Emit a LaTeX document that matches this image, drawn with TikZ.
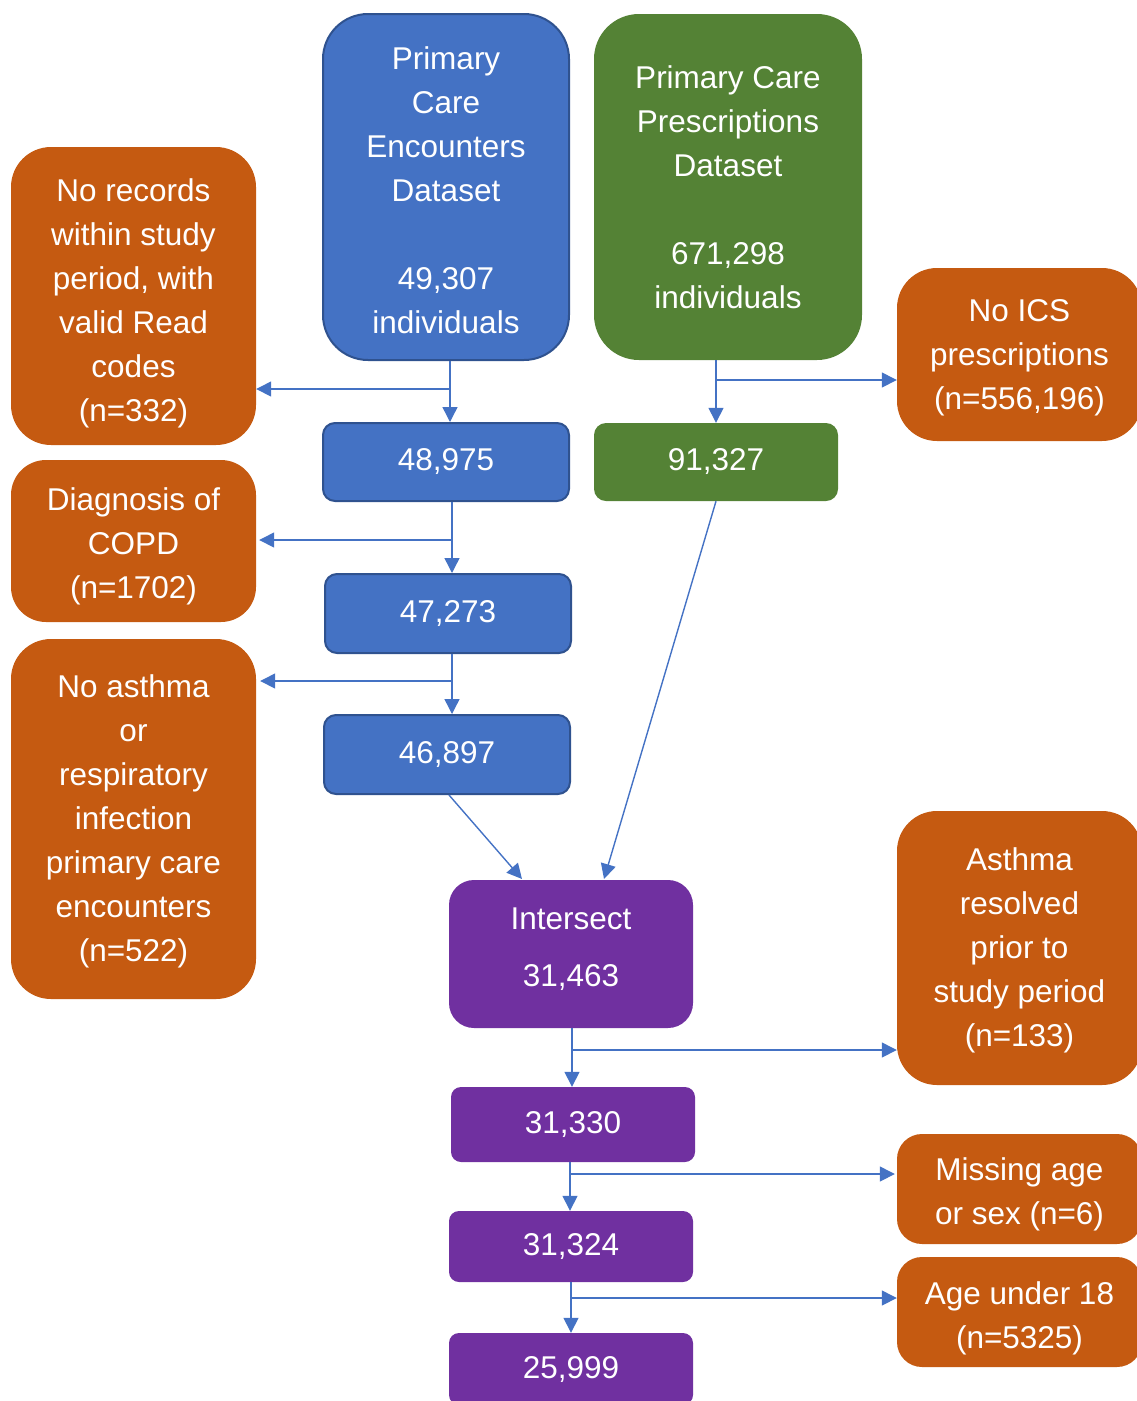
\documentclass[tikz,border=0pt]{standalone}
\usepackage{fontspec}
\setmainfont{Liberation Sans}
\usetikzlibrary{arrows.meta}
\definecolor{encblue}{HTML}{4472C4}
\definecolor{encedge}{HTML}{2F528F}
\definecolor{rxgreen}{HTML}{548235}
\definecolor{exorange}{HTML}{C55A11}
\definecolor{cohort}{HTML}{7030A0}
\newcommand\flowfont{\fontsize{31.5}{44}\selectfont}
% invisible struts to fine-tune the vertical placement of box texts
\newcommand\padtop[1]{\rule{0pt}{#1}}
\newcommand\padbot[1]{\rule[-#1]{0pt}{0pt}}
\begin{document}
\begin{tikzpicture}[x=1pt,y=-1pt,
  box/.style={rectangle, inner sep=0pt, text=white, align=center, font=\flowfont},
  bluebox/.style={box, fill=encblue, draw=encedge, line width=2pt},
  greenbox/.style={box, fill=rxgreen},
  orangebox/.style={box, fill=exorange},
  purplebox/.style={box, fill=cohort},
  arr/.style={draw=encblue, line width=1.4pt, -{Triangle[length=15pt,width=15pt]}}
]
\useasboundingbox (0,0) rectangle (1136,1401);

% source datasets
\node[bluebox, minimum width=246pt, minimum height=346pt, rounded corners=45pt] (A) at (446,187)
  {\padtop{29pt}Primary\\Care\\Encounters\\Dataset\\[44pt]49,307\\individuals};
\node[greenbox, minimum width=268pt, minimum height=346pt, rounded corners=45pt] (B) at (728,187)
  {Primary Care\\Prescriptions\\Dataset\\[44pt]671,298\\individuals};

% encounters branch
\node[bluebox, minimum width=246pt, minimum height=78pt, rounded corners=12pt] (b1) at (446,462) {48,975};
\node[bluebox, minimum width=246pt, minimum height=79pt, rounded corners=12pt] (b2) at (448,613.5) {47,273};
\node[bluebox, minimum width=246pt, minimum height=79pt, rounded corners=12pt] (b3) at (447,754.5) {46,897};

% prescriptions branch
\node[greenbox, minimum width=244pt, minimum height=78pt, rounded corners=12pt] (g1) at (716,462) {91,327};

% exclusions (left)
\node[orangebox, minimum width=245pt, minimum height=298pt, rounded corners=40pt] (O1) at (133.5,296)
  {\padtop{37pt}No records\\within study\\period, with\\valid Read\\codes\\(n=332)};
\node[orangebox, minimum width=245pt, minimum height=162pt, rounded corners=35pt] (O2) at (133.5,541)
  {\padtop{33pt}Diagnosis of\\COPD\\(n=1702)};
\node[orangebox, minimum width=245pt, minimum height=360pt, rounded corners=40pt] (O3) at (133.5,819)
  {\padtop{27pt}No asthma\\or\\respiratory\\infection\\primary care\\encounters\\(n=522)};

% exclusions (right)
\node[orangebox, minimum width=245pt, minimum height=173pt, rounded corners=40pt] (O4) at (1019.5,354.5)
  {\padtop{29pt}No ICS\\prescriptions\\(n=556,196)};
\node[orangebox, minimum width=245pt, minimum height=274pt, rounded corners=40pt] (O5) at (1019.5,948)
  {\padtop{27pt}Asthma\\resolved\\prior to\\study period\\(n=133)};
\node[orangebox, minimum width=245pt, minimum height=110pt, rounded corners=25pt] (O6) at (1019.5,1189)
  {\padtop{34pt}Missing age\\or sex (n=6)};
\node[orangebox, minimum width=245pt, minimum height=110pt, rounded corners=25pt] (O7) at (1019.5,1312)
  {\padtop{35pt}Age under 18\\(n=5325)};

% combined cohort
\node[purplebox, minimum width=244pt, minimum height=148pt, rounded corners=25pt] (I) at (571,954)
  {Intersect\\[13pt]31,463\padbot{13pt}};
\node[purplebox, minimum width=244pt, minimum height=75pt, rounded corners=10pt] (P2) at (573,1124.5) {31,330};
\node[purplebox, minimum width=244pt, minimum height=71pt, rounded corners=10pt] (P3) at (571,1246.5) {31,324};
\node[purplebox, minimum width=244pt, minimum height=72pt, rounded corners=10pt] (P4) at (571,1369) {25,999};

% junction points
\coordinate (j1) at (450,389);
\coordinate (j2) at (452,540);
\coordinate (j3) at (452,681);
\coordinate (k1) at (716,380);
\coordinate (m1) at (572,1050);
\coordinate (m2) at (570,1174);
\coordinate (m3) at (571,1298);
\coordinate (in1) at (522,879);
\coordinate (in2) at (604,879);

% encounters flow
\draw[arr] (j1 |- A.south) -- (j1 |- b1.north);
\draw[arr] (j1) -- (O1.east |- j1);
\draw[arr] (j2 |- b1.south) -- (j2 |- b2.north);
\draw[arr] (j2) -- ([xshift=3pt]O2.east |- j2);
\draw[arr] (j3 |- b2.south) -- (j3 |- b3.north);
\draw[arr] (j3) -- ([xshift=4pt]O3.east |- j3);
\draw[arr] ([xshift=2pt]b3.south) -- (in1);

% prescriptions flow
\draw[arr] (k1 |- B.south) -- (k1 |- g1.north);
\draw[arr] (k1) -- (O4.west |- k1);
\draw[arr] (g1.south) -- (in2);

% cohort flow
\draw[arr] (m1 |- I.south) -- (m1 |- P2.north);
\draw[arr] (m1) -- (O5.west |- m1);
\draw[arr] (m2 |- P2.south) -- (m2 |- P3.north);
\draw[arr] (m2) -- ([xshift=-2pt]O6.west |- m2);
\draw[arr] (m3 |- P3.south) -- (m3 |- P4.north);
\draw[arr] (m3) -- (O7.west |- m3);
\end{tikzpicture}
\end{document}
